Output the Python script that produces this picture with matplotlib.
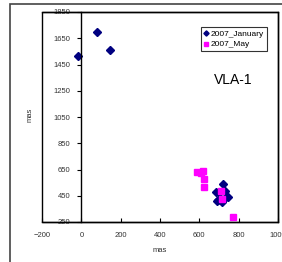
import numpy as np
import matplotlib.pyplot as plt
from matplotlib.patches import Rectangle

plt.rcParams['font.family'] = ['Liberation Sans', 'DejaVu Sans']

# 2007_January positions (mas)
jan_x = [-16, 82, 148, 721, 684, 730, 695, 730, 713, 745, 700, 690]
jan_y = [1515, 1698, 1560, 540, 476, 488, 418, 430, 405, 440, 470, 410]
# 2007_May positions (mas)
may_x = [589, 619, 623, 623, 708, 713, 772, 610]
may_y = [633, 639, 578, 519, 486, 425, 286, 625]

xticks = [-200, 0, 200, 400, 600, 800, 1000]
yticks = [250, 450, 650, 850, 1050, 1250, 1450, 1650, 1850]

fig = plt.figure(figsize=(2.82, 2.62), dpi=100)
ax = fig.add_axes([42/282, 40/262, 236/282, 210/262])

ax.plot(jan_x, jan_y, 'D', color='#000080', markersize=3.8, label='2007_January', ls='none')
ax.plot(may_x, may_y, 's', color='#ff00ff', markersize=4.2, label='2007_May', ls='none')

ax.set_xlim(-200, 1000)
ax.set_ylim(250, 1850)
ax.set_xticks(xticks)
ax.set_yticks(yticks)
ax.spines['left'].set_position(('data', 0))
for s in ax.spines.values():
    s.set_linewidth(1.0)
ax.add_patch(Rectangle((0, 0), 1, 1, transform=ax.transAxes, fill=False,
                       ec='black', lw=1.0, clip_on=False))
ax.tick_params(direction='in', length=3, width=0.8, labelsize=5.5, colors='black',
               labelcolor='#333333')
ax.tick_params(axis='x', pad=7)
ax.tick_params(axis='y', direction='out', pad=5)

ax.set_xlabel('mas', fontsize=5.5, color='#333333', labelpad=6)
fig.text(30/282, 1 - 115/262, 'mas', rotation=90, fontsize=5.5, color='#333333',
         ha='center', va='center')

ax.text(233/282, 1 - 80/262, 'VLA-1', transform=fig.transFigure, fontsize=10,
        ha='center', va='center')

leg = ax.legend(loc='upper right', bbox_to_anchor=(267/282, 1 - 27/262),
                bbox_transform=fig.transFigure, fontsize=6, frameon=True,
                fancybox=False, edgecolor='black', handlelength=0.5,
                handletextpad=0.3, borderpad=0.35, labelspacing=0.35,
                borderaxespad=0, markerscale=0.7)
leg.get_frame().set_linewidth(0.8)

# outer chart border
fig.add_artist(Rectangle((10/282, -0.02), 1.0, 1 - 4/262 + 0.02,
                         transform=fig.transFigure, fill=False, ec='#444444', lw=1.2))

fig.savefig('out.png', dpi=100)
